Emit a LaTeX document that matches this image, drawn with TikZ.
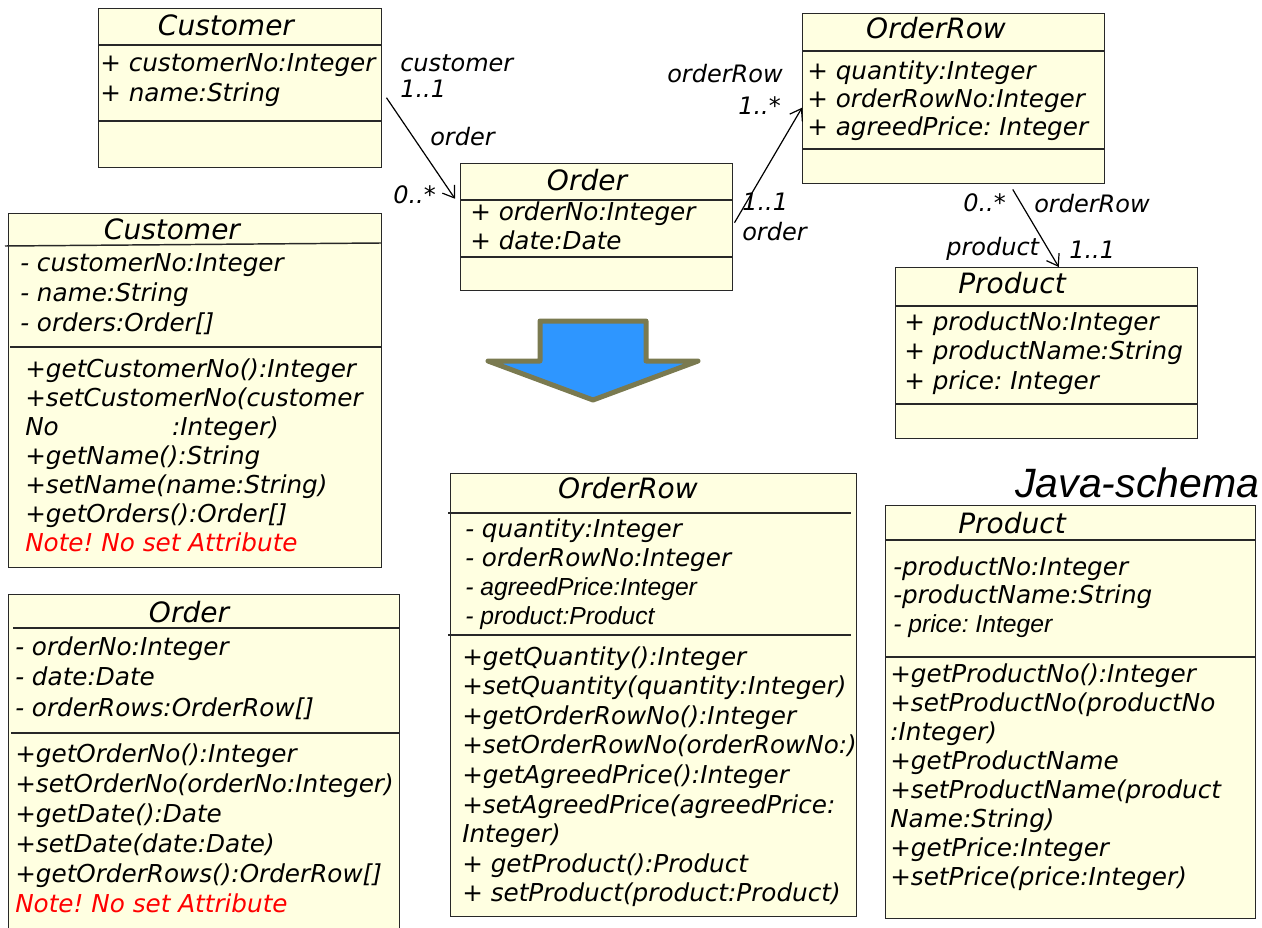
\documentclass[tikz,border=0pt]{standalone}
\usepackage{fontspec}
\setmainfont{DejaVu Sans}
\newfontfamily\arialfont{Liberation Sans}
\usetikzlibrary{arrows.meta}
\frenchspacing

\definecolor{umlfill}{RGB}{255,255,225}
\definecolor{umlline}{RGB}{40,40,40}
\definecolor{notered}{RGB}{255,0,0}
\definecolor{arrowblue}{RGB}{46,150,255}
\definecolor{arrowrim}{RGB}{122,122,80}

% one node per member line, first baseline at (x,y), fixed step
\newcommand{\members}[5]{%
  \foreach \m [count=\i] in {#5}
    \node[member] (#1\i) at (#2,{#3+(\i-1)*#4}) {\m};%
}

\begin{document}
\begin{tikzpicture}[x=0.75pt,y=-0.75pt]
		\tikzstyle{cls}    = [draw=umlline,fill=umlfill,line width=1.1pt,anchor=north west,inner sep=0pt]
		\tikzstyle{title}  = [inner sep=0pt,font=\fontsize{21}{24}\selectfont\itshape]
		\tikzstyle{member} = [inner sep=0pt,anchor=base west,font=\fontsize{18.5}{22}\selectfont\itshape]
		\tikzstyle{role}   = [inner sep=0pt,anchor=base west,font=\fontsize{18}{21}\selectfont\itshape]
		\tikzstyle{sep}    = [draw=umlline,line width=1.1pt]
		\tikzstyle{assoc}  = [draw=black,line width=0.9pt,-{Straight Barb[length=8pt,width=11pt]}]

		\useasboundingbox (0,0) rectangle (1262,927);

		% domain model
		\node[cls,minimum width=283*0.75pt,minimum height=159*0.75pt] (custM) at (98,8) {};
		\path[sep] (98,45) -- (381,45);
		\path[sep] (98,121) -- (381,121);
		\node[title] (custMt) at (226,25) {Customer};
		\members{custMa}{100}{72}{30}{+ customerNo:Integer, + name:String}

		\node[cls,minimum width=272*0.75pt,minimum height=127*0.75pt] (orderM) at (460,163) {};
		\path[sep] (460,200) -- (732,200);
		\path[sep] (460,257) -- (732,257);
		\node[title] (orderMt) at (587,180) {Order};
		\members{orderMa}{470}{220}{29}{+ orderNo:Integer, + date:Date}

		\node[cls,minimum width=302*0.75pt,minimum height=170*0.75pt] (rowM) at (802,13) {};
		\path[sep] (802,51) -- (1104,51);
		\path[sep] (802,149) -- (1104,149);
		\node[title] (rowMt) at (936,28) {OrderRow};
		\members{rowMa}{807}{80}{28}{+ quantity:Integer, + orderRowNo:Integer, + agreedPrice: Integer}

		\node[cls,minimum width=302*0.75pt,minimum height=171*0.75pt] (prodM) at (895,267) {};
		\path[sep] (895,306) -- (1197,306);
		\path[sep] (895,404) -- (1197,404);
		\node[title] (prodMt) at (1012,283) {Product};
		\members{prodMa}{904}{330}{29.5}{+ productNo:Integer, + productName:String, + price: Integer}

		\path ([shift={(4,9.5)}]custM.east) edge[assoc] ([shift={(-5,-28.5)}]orderM.west);
		\path ([shift={(1,-4.5)}]orderM.east) edge[assoc] ([shift={(0,9)}]rowM.west);
		\path ([shift={(59,5)}]rowM.south) edge[assoc] ([shift={(12,0)}]prodM.north);

		\node[role] (rCust)   at (400,72)  {customer};
		\node[role] (mCust)   at (400,98)  {1..1};
		\node[role] (rOrd)    at (430,146) {order};
		\node[role] (mOrd)    at (393,204) {0..*};
		\node[role] (rRow)    at (667,83)  {orderRow};
		\node[role] (mRow)    at (738,115) {1..*};
		\node[role] (mOrd2)   at (742,210) {1..1};
		\node[role] (rOrd2)   at (742,240) {order};
		\node[role] (mRow2)   at (963,212) {0..*};
		\node[role] (rRow2)   at (1034,213){orderRow};
		\node[role] (rProd)   at (946,255) {product};
		\node[role] (mProd)   at (1069,258){1..1};

		% mapping arrow
		\filldraw[fill=arrowblue,draw=arrowrim,line width=3.75pt,line join=round]
			(540,321) -- (646,321) -- (646,361) -- (698,361) -- (593,400) -- (488,361) -- (540,361) -- cycle;

		% java classes
		\node[inner sep=0pt,anchor=base west,font=\arialfont\fontsize{30.75}{34}\selectfont\itshape] (javaHead) at (1015,497) {Java-schema};

		\node[cls,minimum width=373*0.75pt,minimum height=354*0.75pt] (custJ) at (8,213) {};
		\path[sep] (5,246) -- (381,243);
		\path[sep] (10,347) -- (381,347);
		\node[title] (custJt) at (172,229) {Customer};
		\members{custJa}{20}{272}{29.5}{- customerNo:Integer, - name:String, - orders:Order[]}
		\members{custJo}{25}{377}{29}{+getCustomerNo():Integer, +setCustomerNo(customer, {No\hspace{85pt}:Integer)}, +getName():String, +setName(name:String), +getOrders():Order[], {\color{notered}Note! No set Attribute}}

		\node[cls,minimum width=391*0.75pt,minimum height=340*0.75pt] (orderJ) at (8,594) {};
		\path[sep] (13,628) -- (400,628);
		\path[sep] (11,733) -- (399,733);
		\node[title] (orderJt) at (189,612) {Order};
		\members{orderJa}{15}{655}{30.5}{- orderNo:Integer, - date:Date, - orderRows:OrderRow[]}
		\members{orderJo}{15}{762}{30}{+getOrderNo():Integer, +setOrderNo(orderNo:Integer), +getDate():Date, +setDate(date:Date), +getOrderRows():OrderRow[], {\color{notered}Note! No set Attribute}}

		\node[cls,minimum width=406*0.75pt,minimum height=443*0.75pt] (rowJ) at (450,473) {};
		\path[sep] (448,513) -- (851,513);
		\path[sep] (448,635) -- (851,635);
		\node[title] (rowJt) at (628,488) {OrderRow};
		\members{rowJa}{465}{537}{29.3}{- quantity:Integer, - orderRowNo:Integer, {\arialfont - agreedPrice:Integer}, {\arialfont - product:Product}}
		\members{rowJo}{462}{665}{29.6}{+getQuantity():Integer, +setQuantity(quantity:Integer), +getOrderRowNo():Integer, +setOrderRowNo(orderRowNo:), +getAgreedPrice():Integer, +setAgreedPrice(agreedPrice:, Integer), + getProduct():Product, + setProduct(product:Product)}

		\node[cls,minimum width=370*0.75pt,minimum height=413*0.75pt] (prodJ) at (885,505) {};
		\path[sep] (885,540) -- (1255,540);
		\path[sep] (885,657) -- (1255,657);
		\node[title] (prodJt) at (1012,523) {Product};
		\members{prodJa}{893}{575}{28.5}{-productNo:Integer, -productName:String, {\arialfont - price: Integer}}
		\members{prodJo}{890}{682}{29}{+getProductNo():Integer, +setProductNo(productNo, :Integer), +getProductName, +setProductName(product, Name:String), +getPrice:Integer, +setPrice(price:Integer)}
	\end{tikzpicture}
\end{document}
